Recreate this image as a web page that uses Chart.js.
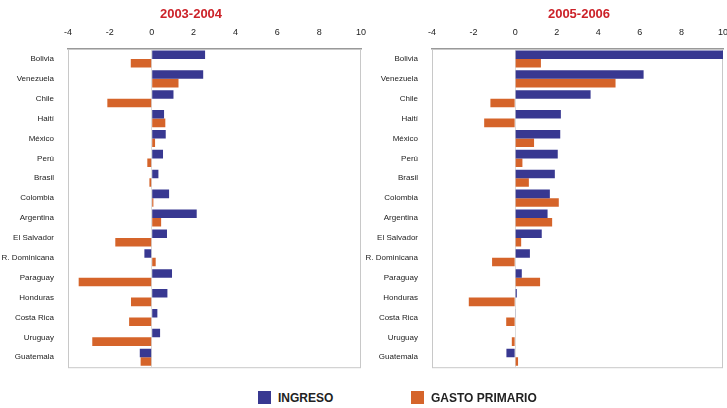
<!DOCTYPE html>
<html>
<head>
<meta charset="utf-8">
<script src="https://cdn.jsdelivr.net/npm/chart.js@4.4.1/dist/chart.umd.min.js"></script>
<style>
  body { margin: 0; background: #fff; width: 727px; height: 408px; position: relative; overflow: hidden;
         font-family: "Liberation Sans", Arial, sans-serif; }
  #c1 { position: absolute; left: 0; top: 0; }
  #c2 { position: absolute; left: 360px; top: 0; }
  .legend { position: absolute; top: 391px; font-size: 12px; font-weight: bold; color: #222; }
  .legend span { display: inline-block; width: 13px; height: 13px; vertical-align: -2px; margin-right: 7px; }
</style>
</head>
<body>
<canvas id="c1" width="382" height="378"></canvas>
<canvas id="c2" width="438" height="378"></canvas>
<div class="legend" style="left:258px"><span style="background:#383891"></span>INGRESO</div>
<div class="legend" style="left:411px"><span style="background:#d5642a"></span>GASTO PRIMARIO</div>
<script>
const countries = ["Bolivia", "Venezuela", "Chile", "Haití", "México", "Perú", "Brasil", "Colombia",
    "Argentina", "El Salvador", "R. Dominicana", "Paraguay", "Honduras", "Costa Rica", "Uruguay", "Guatemala"];

// variación en puntos del PIB
const ingreso2003 = [2.55, 2.46, 1.04, 0.59, 0.67, 0.54, 0.32, 0.83, 2.15, 0.73, -0.35, 0.97, 0.75, 0.27, 0.40, -0.57];
const gasto2003   = [-1.0, 1.28, -2.12, 0.65, 0.16, -0.21, -0.11, 0.08, 0.45, -1.74, 0.19, -3.49, -0.99, -1.08, -2.84, -0.53];
const ingreso2005 = [10.2, 6.18, 3.63, 2.20, 2.17, 2.05, 1.91, 1.67, 1.56, 1.28, 0.71, 0.32, 0.08, 0.03, 0.0, -0.42];
const gasto2005   = [1.24, 4.83, -1.19, -1.49, 0.91, 0.35, 0.66, 2.10, 1.78, 0.29, -1.11, 1.20, -2.23, -0.43, -0.16, 0.14];

const xTicks = [-4, -2, 0, 2, 4, 6, 8, 10];

const NAVY = "#383891";
const ORANGE = "#d5642a";

// marco gris alrededor del área de trazado
const frame = {
    id: "frame",
    beforeDatasetsDraw(chart) {
        const { ctx, chartArea: a } = chart;
        ctx.save();
        ctx.strokeStyle = "#c8c8c8";
        ctx.lineWidth = 1;
        ctx.strokeRect(a.left + 0.5, a.top + 0.5, a.right - a.left - 1, a.bottom - a.top);
        ctx.restore();
    }
};

// leftWidth: espacio para los nombres; rightWidth: hueco a la derecha (centra el título)
function makeChart(id, title, ingreso, gasto, leftWidth, rightWidth) {
    return new Chart(document.getElementById(id), {
        type: "bar",
        data: {
            labels: countries,
            datasets: [
                { label: "INGRESO", data: ingreso, backgroundColor: NAVY },
                { label: "GASTO PRIMARIO", data: gasto, backgroundColor: ORANGE }
            ]
        },
        options: {
            indexAxis: "y",
            responsive: false,
            animation: false,
            categoryPercentage: 0.86,
            barPercentage: 1,
            layout: { padding: { left: 0, right: 0, top: 0, bottom: 5 } },
            plugins: {
                legend: { display: false },
                tooltip: { enabled: false },
                title: {
                    display: true,
                    text: title,
                    color: "#cc2229",
                    font: { family: "Liberation Sans", size: 13, weight: "bold" },
                    padding: { top: 7, bottom: 4 }
                }
            },
            scales: {
                x: {
                    position: "top",
                    min: -4,
                    max: 10,
                    afterBuildTicks: s => { s.ticks = xTicks.map(v => ({ value: v })); },
                    afterFit: s => { s.height = 22.4; },
                    ticks: { color: "#222", font: { family: "Liberation Sans", size: 9 }, padding: 11 },
                    grid: {
                        drawTicks: false,
                        color: c => c.tick && c.tick.value === 0 ? "#dcdcdc" : "rgba(0,0,0,0)"
                    },
                    border: { display: true, color: "#999", width: 1.5 }
                },
                y: {
                    afterFit: s => { s.width = leftWidth; },
                    ticks: { color: "#222", font: { family: "Liberation Sans", size: 8 }, padding: 6 },
                    grid: { display: false },
                    border: { display: false }
                },
                yRight: {
                    type: "category",
                    position: "right",
                    afterFit: s => { s.width = rightWidth; },
                    ticks: { display: false },
                    grid: { display: false },
                    border: { display: false }
                }
            }
        },
        plugins: [frame]
    });
}

makeChart("c1", "2003-2004", ingreso2003, gasto2003, 68, 21);
makeChart("c2", "2005-2006", ingreso2005, gasto2005, 72, 75);
</script>
</body>
</html>
